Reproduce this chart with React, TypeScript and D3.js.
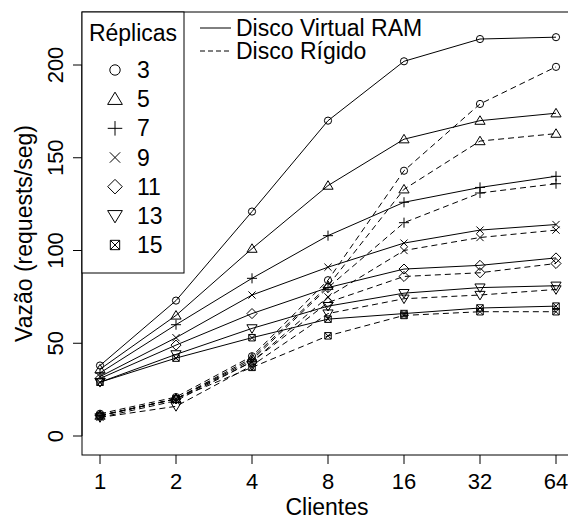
import React, { useEffect, useRef } from 'react';
import * as d3 from 'd3';

const clients = ['1', '2', '4', '8', '16', '32', '64'];
const replicas = ['3', '5', '7', '9', '11', '13', '15'];
const yTicks = [0, 50, 100, 150, 200];

// Disco Virtual RAM (solid)
const ram3 = [38, 73, 121, 170, 202, 214, 215];
const ram5 = [36, 65, 101, 135, 160, 170, 174];
const ram7 = [34, 60, 85, 108, 126, 134, 140];
const ram9 = [32, 53, 76, 91, 104, 111, 114];
const ram11 = [31, 49, 66, 80, 90, 92, 96];
const ram13 = [29, 44, 58, 70, 77, 80, 81];
const ram15 = [29, 42, 53, 63, 66, 69, 70];

// Disco Rigido (dashed)
const disk3 = [12, 21, 43, 84, 143, 179, 199];
const disk5 = [11, 20, 42, 81, 133, 159, 163];
const disk7 = [11, 20, 41, 80, 115, 131, 136];
const disk9 = [10, 19, 40, 75, 100, 107, 111];
const disk11 = [11, 20, 40, 72, 86, 88, 93];
const disk13 = [10, 16, 38, 66, 74, 76, 79];
const disk15 = [11, 20, 37, 54, 65, 67, 67];

const ramSeries = [ram3, ram5, ram7, ram9, ram11, ram13, ram15];
const diskSeries = [disk3, disk5, disk7, disk9, disk11, disk13, disk15];

const FONT = '"Liberation Sans", Arial, sans-serif';

// draws an R-style pch symbol (1..7) centred at 0,0
function drawSymbol(g: any, pch: number, s: number) {
  const path = d3.path();
  if (pch === 0) {
    g.append('circle').attr('r', s).attr('fill', 'none').attr('stroke', '#000');
    return;
  }
  if (pch === 1 || pch === 5) {
    const h = s * 1.35;
    const d = pch === 1 ? 1 : -1;
    path.moveTo(0, -h * d);
    path.lineTo(h * 1.05, h * 0.75 * d);
    path.lineTo(-h * 1.05, h * 0.75 * d);
    path.closePath();
  } else if (pch === 2) {
    const h = s * 1.4;
    path.moveTo(-h, 0); path.lineTo(h, 0);
    path.moveTo(0, -h); path.lineTo(0, h);
  } else if (pch === 3) {
    const h = s;
    path.moveTo(-h, -h); path.lineTo(h, h);
    path.moveTo(-h, h); path.lineTo(h, -h);
  } else if (pch === 4) {
    const h = s * 1.4;
    path.moveTo(0, -h); path.lineTo(h, 0); path.lineTo(0, h); path.lineTo(-h, 0);
    path.closePath();
  } else if (pch === 6) {
    const h = s * 0.9;
    path.rect(-h, -h, 2 * h, 2 * h);
    path.moveTo(-h, -h); path.lineTo(h, h);
    path.moveTo(-h, h); path.lineTo(h, -h);
  }
  g.append('path').attr('d', path.toString()).attr('fill', 'none').attr('stroke', '#000').attr('stroke-width', 1);
}

export default function App() {
  const svgRef = useRef<SVGSVGElement>(null);

  useEffect(() => {
    const svg = d3.select(svgRef.current);
    svg.selectAll('*').remove();

    const x = d3.scalePoint<string>().domain(clients).range([100, 556]);
    const y = d3.scaleLinear().domain([0, 200]).range([436, 65]);

    const left = 82, top = 12, bottom = 455, right = 574;

    const clip = svg.append('defs').append('clipPath').attr('id', 'plotclip');
    clip.append('rect').attr('x', left).attr('y', top).attr('width', right - left).attr('height', bottom - top);

    const plot = svg.append('g').attr('clip-path', 'url(#plotclip)');

    const line = d3.line<number>()
      .x((d, i) => x(clients[i]) as number)
      .y(d => y(d));

    const groups = [
      { data: ramSeries, dash: null },
      { data: diskSeries, dash: '6,4' },
    ];

    groups.forEach(grp => {
      grp.data.forEach((vals, k) => {
        plot.append('path')
          .attr('d', line(vals))
          .attr('fill', 'none')
          .attr('stroke', '#000')
          .attr('stroke-width', 1)
          .attr('stroke-dasharray', grp.dash);
        vals.forEach((v, i) => {
          const g = plot.append('g').attr('transform', `translate(${x(clients[i])},${y(v)})`);
          drawSymbol(g, k, 3.6);
        });
      });
    });

    // box
    svg.append('rect')
      .attr('x', left).attr('y', top)
      .attr('width', right - left).attr('height', bottom - top)
      .attr('fill', 'none').attr('stroke', '#000').attr('stroke-width', 1);

    // x axis
    const xa = svg.append('g');
    clients.forEach(c => {
      xa.append('line').attr('x1', x(c)).attr('x2', x(c)).attr('y1', bottom).attr('y2', bottom + 9).attr('stroke', '#000');
      xa.append('text').attr('x', x(c)).attr('y', 489).attr('text-anchor', 'middle')
        .attr('font-family', FONT).attr('font-size', 22).text(c);
    });
    xa.append('text').attr('x', (left + right) / 2 - 1).attr('y', 515).attr('text-anchor', 'middle')
      .attr('font-family', FONT).attr('font-size', 23).text('Clientes');

    // y axis
    const ya = svg.append('g');
    ya.append('line').attr('x1', left).attr('x2', left).attr('y1', y(0)).attr('y2', y(200)).attr('stroke', '#000');
    yTicks.forEach(t => {
      ya.append('line').attr('x1', left - 9).attr('x2', left).attr('y1', y(t)).attr('y2', y(t)).attr('stroke', '#000');
      ya.append('text').attr('transform', `translate(63,${y(t)}) rotate(-90)`).attr('text-anchor', 'middle')
        .attr('font-family', FONT).attr('font-size', 22).text(String(t));
    });
    ya.append('text').attr('transform', `translate(32,${(top + bottom) / 2}) rotate(-90)`).attr('text-anchor', 'middle')
      .attr('font-family', FONT).attr('font-size', 23).text('Vazão (requests/seg)');

    // legend Replicas
    const lg = svg.append('g');
    lg.append('rect').attr('x', left).attr('y', top).attr('width', 102).attr('height', 261)
      .attr('fill', '#fff').attr('stroke', '#000');
    lg.append('text').attr('x', 133).attr('y', 41).attr('text-anchor', 'middle')
      .attr('font-family', FONT).attr('font-size', 23).text('Réplicas');
    const ly = d3.scalePoint<string>().domain(replicas).range([70, 245]);
    replicas.forEach((r, k) => {
      const g = lg.append('g').attr('transform', `translate(115,${ly(r)})`);
      drawSymbol(g, k, 5.2);
      lg.append('text').attr('x', 137).attr('y', (ly(r) as number) + 8)
        .attr('font-family', FONT).attr('font-size', 23).text(r);
    });

    // legend lines
    const lt = [
      { label: 'Disco Virtual RAM', dash: null, yy: 28 },
      { label: 'Disco Rígido', dash: '5,3', yy: 51 },
    ];
    lt.forEach(o => {
      svg.append('line').attr('x1', 200).attr('x2', 231).attr('y1', o.yy).attr('y2', o.yy)
        .attr('stroke', '#000').attr('stroke-dasharray', o.dash);
      svg.append('text').attr('x', 236).attr('y', o.yy + 8)
        .attr('font-family', FONT).attr('font-size', 23).text(o.label);
    });
  }, []);

  return (
    <svg ref={svgRef} width={568} height={519}
      style={{ position: 'absolute', left: 0, top: 0, background: '#fff' }} />
  );
}
